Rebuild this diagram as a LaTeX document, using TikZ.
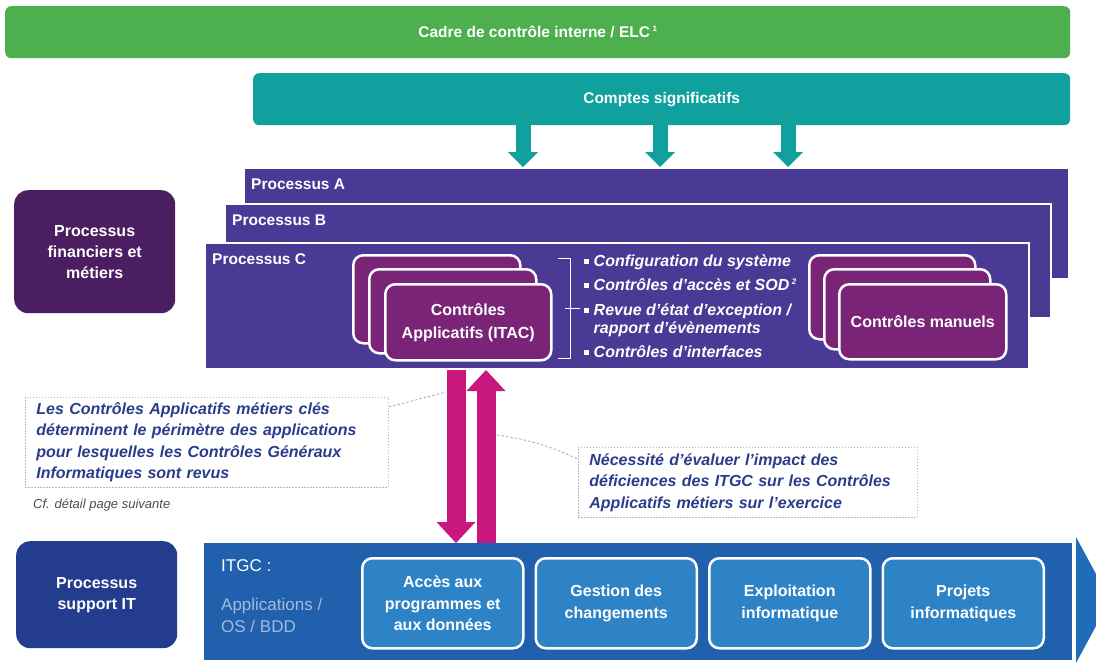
\documentclass[tikz,border=0pt]{standalone}
\usepackage{fontspec}
\setmainfont{Liberation Sans}
\usetikzlibrary{arrows.meta,positioning,calc}

\definecolor{elcgreen}{RGB}{77,175,78}
\definecolor{cptteal}{RGB}{16,160,158}
\definecolor{procviolet}{RGB}{74,58,150}
\definecolor{finplum}{RGB}{74,30,96}
\definecolor{ctrlplum}{RGB}{122,36,120}
\definecolor{magarrow}{RGB}{200,23,126}
\definecolor{notetext}{RGB}{43,60,140}
\definecolor{supnavy}{RGB}{35,60,141}
\definecolor{itgcblue}{RGB}{33,96,173}
\definecolor{itgcbox}{RGB}{46,131,199}
\definecolor{itgcgrey}{RGB}{165,186,218}
\definecolor{itgctip}{RGB}{32,108,182}

\newcommand{\sqbul}{\rule[3pt]{4.5pt}{4.5pt}\hspace{5pt}}

\begin{document}
\begin{tikzpicture}[
        x=1pt, y=-1pt,
        band/.style={
            rectangle, rounded corners=6pt, anchor=north west, inner sep=0pt,
            text=white, font=\bfseries\fontsize{15.5}{17}\selectfont
        },
        proc/.style={
            rectangle, draw=white, line width=2pt, fill=procviolet,
            anchor=north west, inner sep=0pt
        },
        ptitle/.style={
            inner sep=0pt, text=white, font=\bfseries\fontsize{15.5}{17}\selectfont
        },
        side/.style={
            rectangle, rounded corners=14pt, anchor=north west, inner sep=0pt,
            align=center, text=white, font=\bfseries\fontsize{16}{21}\selectfont
        },
        ctrl/.style={
            rectangle, rounded corners=10pt, draw=white, line width=2.5pt,
            fill=ctrlplum, anchor=north west, inner sep=0pt, align=center,
            text=white, font=\bfseries\fontsize{16}{23}\selectfont
        },
        gbox/.style={
            rectangle, rounded corners=10pt, draw=white, line width=2.5pt,
            fill=itgcbox, inner sep=0pt, align=center,
            minimum width=161pt, minimum height=90pt,
            text=white, font=\bfseries\fontsize{16}{21.5}\selectfont
        },
        note/.style={
            rectangle, draw=gray!55, line width=0.8pt, dash pattern=on 1.5pt off 1.5pt,
            fill=white, anchor=north west, align=left, inner xsep=11pt,
            text=notetext, font=\bfseries\itshape\fontsize{16}{21.5}\selectfont
        },
        tarr/.style={draw=cptteal, line width=15pt, -{Triangle[width=30pt,length=15pt,line width=0pt]}},
        marr/.style={draw=magarrow, line width=19pt, -{Triangle[width=39pt,length=21pt,line width=0pt]}},
        lnk/.style={draw=gray!60, line width=0.9pt, dash pattern=on 2.5pt off 2pt}
    ]
    \useasboundingbox (0,0) rectangle (1096,665);

    % Bands
    \node[band, fill=elcgreen, minimum width=1065pt, minimum height=52pt] (elc) at (5,6)
        {Cadre de contrôle interne / ELC\,{\fontsize{8}{8}\selectfont\raisebox{6pt}{1}}};
    \node[band, fill=cptteal, minimum width=817pt, minimum height=52pt] (cpt) at (253,73)
        {Comptes significatifs};

    % Processes
    \node[proc, minimum width=825pt, minimum height=111pt] (pa) at (243,167) {};
    \node[proc, minimum width=826pt, minimum height=114pt] (pb) at (224,203) {};
    \node[proc, minimum width=824pt, minimum height=126pt] (pc) at (204,242) {};
    \node[ptitle, below right=12pt and 8pt of pa.north west] {Processus A};
    \node[ptitle, below right=12pt and 8pt of pb.north west] {Processus B};
    \node[ptitle, below right=11pt and 8pt of pc.north west] {Processus C};

    \foreach \x in {523,660,788}
        \draw[tarr] (\x,0 |- cpt.south) -- (\x,0 |- pa.north);

    % Side boxes
    \node[side, fill=finplum, minimum width=161pt, minimum height=123pt] (fin) at (14,190)
        {Processus\\financiers et\\métiers};
    \node[side, fill=supnavy, minimum width=161pt, minimum height=107pt] (sup) at (16,541)
        {Processus\\support IT};

    % Application controls
    \node[ctrl, minimum width=167pt, minimum height=88pt] (itac3) at (352,254) {};
    \node[ctrl, minimum width=167pt, minimum height=84pt] (itac2) at (368,268) {};
    \node[ctrl, minimum width=166pt, minimum height=76pt] (itac) at (384,283)
        {Contrôles\\Applicatifs (ITAC)};

    \draw[white, line width=1pt] (558,258) -- (570,258) -- (570,358) -- (558,358);
    \draw[white, line width=1pt] (565,308) -- (580,308);

    \node[anchor=north west, inner sep=0pt, align=left, text=white,
          font=\bfseries\itshape\fontsize{16}{18}\selectfont] (items) at (584,255)
        {\sqbul Configuration du système\\[6pt]
         \sqbul Contrôles d'accès et SOD\,{\fontsize{8}{8}\selectfont\raisebox{6pt}{2}}\\[7pt]
         \sqbul Revue d'état d'exception /\\
         \hspace{9.5pt}rapport d'évènements\\[6pt]
         \sqbul Contrôles d'interfaces};

    % Manual controls
    \node[ctrl, minimum width=166pt, minimum height=84pt] (man3) at (808,254) {};
    \node[ctrl, minimum width=166pt, minimum height=80pt] (man2) at (823,268) {};
    \node[ctrl, minimum width=167pt, minimum height=75pt] (man) at (838,283) {Contrôles manuels};

    % ITGC
    \node[rectangle, fill=itgcblue, anchor=north west, minimum width=868pt,
          minimum height=117pt] (itgc) at (204,543) {};
    \fill[itgctip] (1076,537) -- (1096,574) -- (1096,626) -- (1076,663) -- cycle;
    \node[anchor=west, inner sep=0pt, text=white, font=\fontsize{17}{19}\selectfont] (itgct) at (221,566) {ITGC :};
    \node[anchor=north west, inner sep=0pt, align=left, text=itgcgrey,
          font=\fontsize{17}{22}\selectfont] (itgcs) at (221,598) {Applications /\\OS / BDD};

    \node[gbox, anchor=north west] (g1) at (361,557) {Accès aux\\programmes et\\aux données};
    \node[gbox, right=10pt of g1] (g2) {Gestion des\\changements};
    \node[gbox, right=10pt of g2] (g3) {Exploitation\\informatique};
    \node[gbox, right=10pt of g3] (g4) {Projets\\informatiques};

    % Arrows between layers
    \draw[marr] (456,0 |- pc.south) -- (456,0 |- itgc.north);
    \draw[marr] (486,0 |- itgc.north) -- (486,0 |- pc.south);

    % Notes
    \node[note, text width=341pt, minimum height=90pt] (note1) at (25,397)
        {Les Contrôles Applicatifs métiers clés\\
         déterminent le périmètre des applications\\
         pour lesquelles les Contrôles Généraux\\
         Informatiques sont revus};
    \node[note, text width=317pt, minimum height=70pt] (note2) at (578,447)
        {Nécessité d'évaluer l'impact des\\
         déficiences des ITGC sur les Contrôles\\
         Applicatifs métiers sur l'exercice};
    \node[below right=11pt and 8pt of note1.south west, inner sep=0pt, text=black!70,
          font=\itshape\fontsize{13}{15}\selectfont] (cf) {Cf. détail page suivante};

    \coordinate (m1) at (446,392);
    \coordinate (m2) at (497,435);
    \draw[lnk] ([yshift=-10pt]note1.north east) -- (m1);
    \draw[lnk] (m2) to[bend left=8] ([yshift=-12pt]note2.north west);
\end{tikzpicture}
\end{document}
